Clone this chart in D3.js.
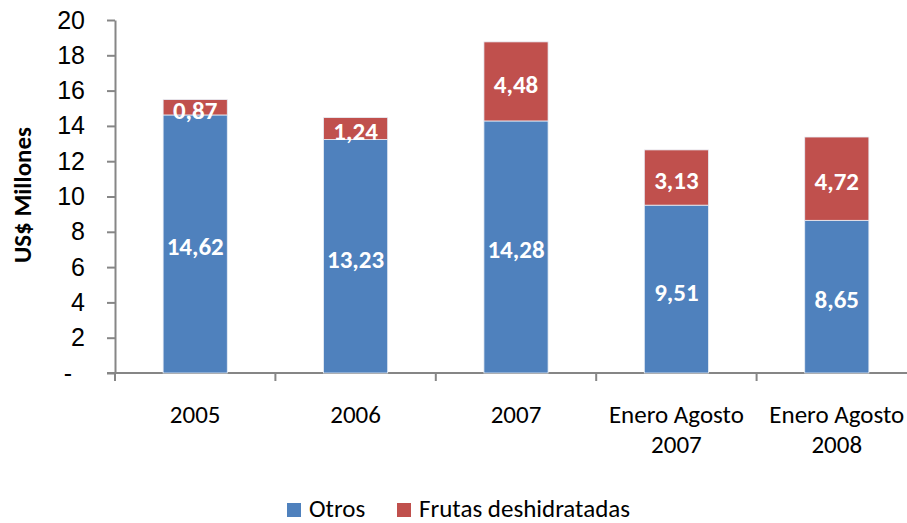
<!DOCTYPE html>
<html>
<head>
<meta charset="utf-8">
<title>Exportaciones</title>
<style>
body { margin: 0; background: #fff; }
svg { display: block; font-family: Carlito, Calibri, "Open Sans", sans-serif; }
.axis path, .axis line { stroke: #868686; stroke-width: 2px; }
.axis text { fill: #000; font-size: 25px; }
.lbl { fill: #fff; font-weight: bold; font-size: 25px; text-anchor: middle; }
</style>
<script src="https://d3js.org/d3.v7.min.js"></script>
</head>
<body>
<div id="result"></div>
<script>
var categories = [["2005"], ["2006"], ["2007"], ["Enero Agosto", "2007"], ["Enero Agosto", "2008"]]
var otros = [14.62, 13.23, 14.28, 9.51, 8.65]
var frutas = [0.87, 1.24, 4.48, 3.13, 4.72]
var yTicks = [0, 2, 4, 6, 8, 10, 12, 14, 16, 18, 20]
var seriesNames = ["Otros", "Frutas deshidratadas"]
var colors = ["#4F81BD", "#C0504D"]

var W = 907, H = 523
var svg = d3.select('#result').append('svg').attr('width', W).attr('height', H)

var x = d3.scaleBand().domain(d3.range(categories.length)).range([115, 917]).paddingInner(0.6).paddingOuter(0.3)
var y = d3.scaleLinear().domain([0, 20]).range([373, 20])

var fmt = v => v.toFixed(2).replace('.', ',')

// y axis
var ya = svg.append('g').attr('class', 'axis').attr('transform', 'translate(115,0)')
  .call(d3.axisLeft(y).tickValues(yTicks).tickSize(8).tickPadding(22).tickSizeOuter(0).tickFormat(d => d == 0 ? '-' : d))
ya.selectAll('text').filter(d => d == 0).attr('dx', -13)

// x axis (ticks at band boundaries)
var xa = svg.append('g').attr('class', 'axis').attr('transform', 'translate(0,373)')
xa.append('line').attr('x1', 107).attr('x2', W).attr('y1', 0).attr('y2', 0)
xa.selectAll('line.tk').data(d3.range(categories.length)).enter().append('line').attr('class', 'tk')
  .attr('x1', i => x(i) - x.step() * 0.3).attr('x2', i => x(i) - x.step() * 0.3)
  .attr('y1', 0).attr('y2', 8)
xa.selectAll('text.cat').data(categories).enter().append('text').attr('class', 'cat')
  .attr('text-anchor', 'middle')
  .attr('x', (d, i) => x(i) + x.bandwidth() / 2)
  .attr('y', 50)
  .each(function(d) {
    var t = d3.select(this)
    d.forEach((s, j) => t.append('tspan').attr('x', t.attr('x')).attr('dy', j ? 30 : 0).text(s))
  })

// stacked bars
var rows = otros.map((v, i) => ({i: i, otros: v, frutas: frutas[i]}))
var stack = d3.stack().keys(['otros', 'frutas'])(rows)
var layer = svg.selectAll('g.layer').data(stack).enter().append('g').attr('class', 'layer')
  .attr('fill', (d, k) => colors[k])
layer.selectAll('rect').data(d => d).enter().append('rect')
  .attr('x', d => x(d.data.i))
  .attr('width', x.bandwidth())
  .attr('y', d => y(d[1]))
  .attr('height', d => y(d[0]) - y(d[1]))
  .attr('stroke', '#e8eef6').attr('stroke-width', 0.8)

layer.selectAll('text').data(d => d).enter().append('text').attr('class', 'lbl')
  .attr('x', d => x(d.data.i) + x.bandwidth() / 2)
  .attr('y', d => (y(d[0]) + y(d[1])) / 2)
  .attr('dy', '0.46em')
  .text(d => fmt(d[1] - d[0]))

// y title
svg.append('text').attr('transform', 'translate(31,195) rotate(-90)')
  .attr('text-anchor', 'middle').attr('font-weight', 'bold').attr('font-size', 25)
  .text('US$ Millones')

// legend
var legX = [287, 397]
var leg = svg.selectAll('g.leg').data(seriesNames).enter().append('g').attr('class', 'leg')
  .attr('transform', (d, i) => `translate(${legX[i]},503)`)
leg.append('rect').attr('width', 14).attr('height', 14).attr('fill', (d, i) => colors[i])
leg.append('text').attr('x', 22).attr('y', 14).attr('font-size', 25).text(d => d)
</script>
</body>
</html>
